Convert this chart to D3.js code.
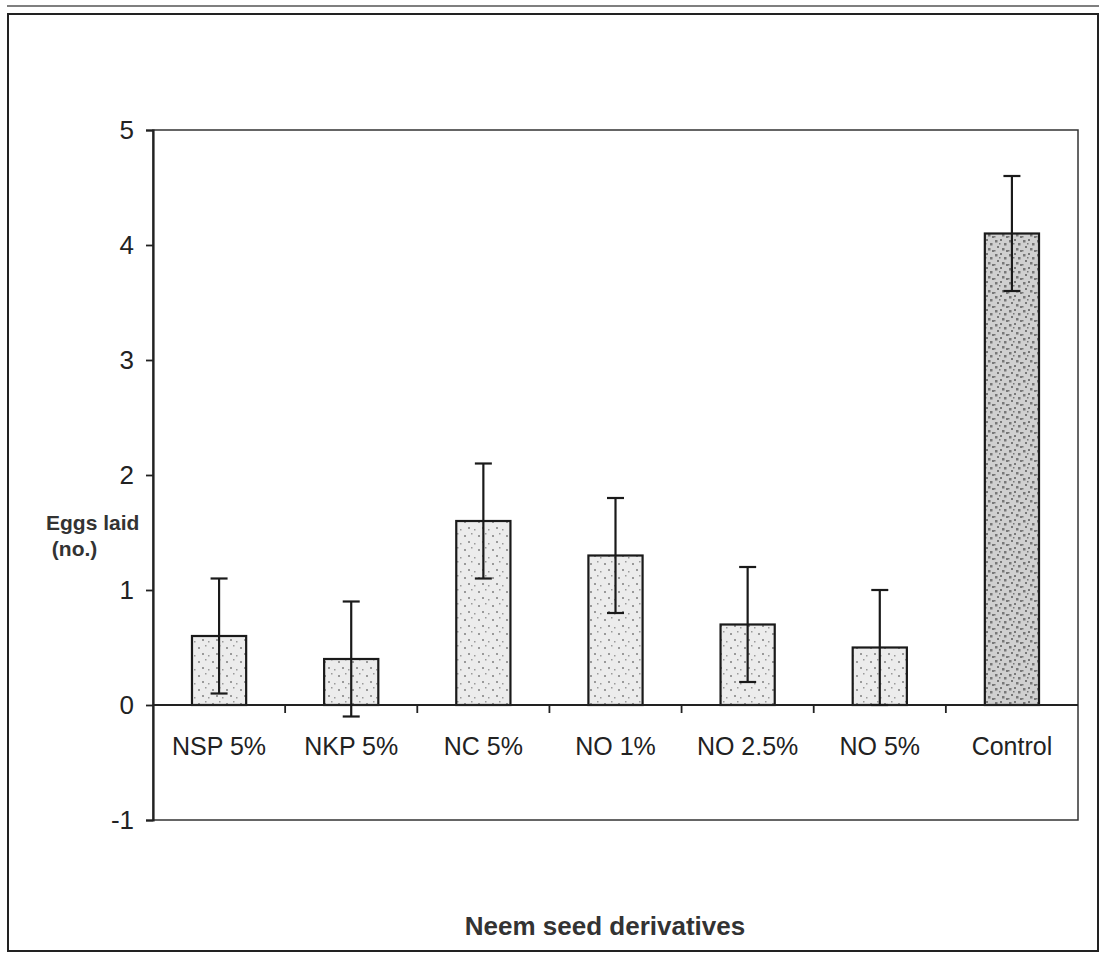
<!DOCTYPE html>
<html>
<head>
<meta charset="utf-8">
<script src="https://cdn.jsdelivr.net/npm/d3@7"></script>
<style>
  html, body { margin: 0; padding: 0; background: #fff; }
  svg { display: block; }
  text { font-family: "Liberation Sans", Arial, sans-serif; }
</style>
</head>
<body>
<svg id="chart" width="1108" height="953"></svg>
<script>
// ---- data ----
const categories = ["NSP 5%", "NKP 5%", "NC 5%", "NO 1%", "NO 2.5%", "NO 5%", "Control"];
const eggsLaid = [0.6, 0.4, 1.6, 1.3, 0.7, 0.5, 4.1];
const errors = [0.5, 0.5, 0.5, 0.5, 0.5, 0.5, 0.5];
const yTicks = [-1, 0, 1, 2, 3, 4, 5];
const yLabelLines = ["Eggs laid", " (no.)"];
const xTitle = "Neem seed derivatives";

(function () {
const svg = d3.select("#chart");
const pL = 153, pR = 1078, pT = 130, pB = 820;

// patterns (stipple texture)
const defs = svg.append("defs");
function stipple(id, bg, dot, dots) {
  const p = defs.append("pattern").attr("id", id)
    .attr("patternUnits", "userSpaceOnUse").attr("width", 14).attr("height", 14);
  p.append("rect").attr("width", 14).attr("height", 14).attr("fill", bg);
  dots.forEach(([dx, dy, s]) => p.append("rect").attr("x", dx).attr("y", dy)
    .attr("width", s).attr("height", s).attr("fill", dot));
}
stipple("stLight", "#ececec", "#9a9a9a", [[2,3,2],[9,1,1.5],[6,9,2],[12,11,1.5]]);
stipple("stDark", "#d0d0d0", "#777", [[1,2,2.5],[6,1,2],[10,5,2.5],[3,8,2],[8,10,2.5],[12,12,2],[0,12,1.5],[5,5,1.5]]);

// outer border
svg.append("line").attr("x1", 7).attr("x2", 1099).attr("y1", 6).attr("y2", 6)
  .attr("stroke", "#555").attr("stroke-width", 1.5);
svg.append("rect").attr("x", 8).attr("y", 14).attr("width", 1090).attr("height", 937)
  .attr("fill", "none").attr("stroke", "#222").attr("stroke-width", 2);

// scales
const x = d3.scaleBand().domain(categories).range([pL, pR])
  .paddingInner(0.59).paddingOuter(0.295);
const y = d3.scaleLinear().domain([-1, 5]).range([pB, pT]);

// plot frame
svg.append("rect").attr("x", pL).attr("y", pT).attr("width", pR - pL)
  .attr("height", pB - pT).attr("fill", "none").attr("stroke", "#333").attr("stroke-width", 1.5);

// y axis
const yAxis = svg.append("g").attr("transform", `translate(${pL},0)`)
  .call(d3.axisLeft(y).tickValues(yTicks).tickSize(7).tickPadding(12).tickFormat(d => String(d)));
yAxis.select(".domain").attr("stroke", "#222").attr("stroke-width", 2.2);
yAxis.selectAll(".tick line").attr("stroke", "#222").attr("stroke-width", 1.8);
yAxis.selectAll(".tick text").attr("font-size", 26).attr("fill", "#222")
  .attr("font-family", "Liberation Sans, Arial, sans-serif");

// bars
const bars = svg.append("g");
bars.selectAll("rect").data(categories).join("rect")
  .attr("x", d => x(d))
  .attr("width", x.bandwidth())
  .attr("y", (d, i) => y(eggsLaid[i]))
  .attr("height", (d, i) => y(0) - y(eggsLaid[i]))
  .attr("fill", (d, i) => i === categories.length - 1 ? "url(#stDark)" : "url(#stLight)")
  .attr("stroke", "#1a1a1a").attr("stroke-width", 2.2);

// x axis line at 0
svg.append("line").attr("x1", pL).attr("x2", pR).attr("y1", y(0)).attr("y2", y(0))
  .attr("stroke", "#222").attr("stroke-width", 2);
// category separator ticks
const sepTicks = categories.slice(1).map(c => x(c) - x.step() * x.paddingInner() / 2);
svg.append("g").selectAll("line").data(sepTicks).join("line")
  .attr("x1", d => d).attr("x2", d => d).attr("y1", y(0)).attr("y2", y(0) + 8)
  .attr("stroke", "#222").attr("stroke-width", 1.8);

// error bars
const eb = svg.append("g").attr("stroke", "#1a1a1a").attr("stroke-width", 2.2);
categories.forEach((c, i) => {
  const cx = x(c) + x.bandwidth() / 2;
  const y1 = y(eggsLaid[i] + errors[i]), y2 = y(eggsLaid[i] - errors[i]);
  eb.append("line").attr("x1", cx).attr("x2", cx).attr("y1", y1).attr("y2", y2);
  eb.append("line").attr("x1", cx - 8.5).attr("x2", cx + 8.5).attr("y1", y1).attr("y2", y1);
  eb.append("line").attr("x1", cx - 8.5).attr("x2", cx + 8.5).attr("y1", y2).attr("y2", y2);
});

// category labels
svg.append("g").selectAll("text").data(categories).join("text")
  .attr("x", d => x(d) + x.bandwidth() / 2)
  .attr("y", 755)
  .attr("text-anchor", "middle")
  .attr("font-size", 25).attr("fill", "#222")
  .text(d => d);

// y label
svg.append("text").attr("x", 46).attr("y", 530).attr("font-size", 21)
  .attr("font-weight", "bold").attr("fill", "#333").text(yLabelLines[0]);
svg.append("text").attr("x", 46).attr("y", 556).attr("font-size", 21)
  .attr("font-weight", "bold").attr("fill", "#333")
  .style("white-space", "pre").text(yLabelLines[1]);

// x title
svg.append("text").attr("x", 605).attr("y", 935).attr("text-anchor", "middle")
  .attr("font-size", 26).attr("font-weight", "bold").attr("fill", "#333").text(xTitle);
})();
</script>
</body>
</html>
